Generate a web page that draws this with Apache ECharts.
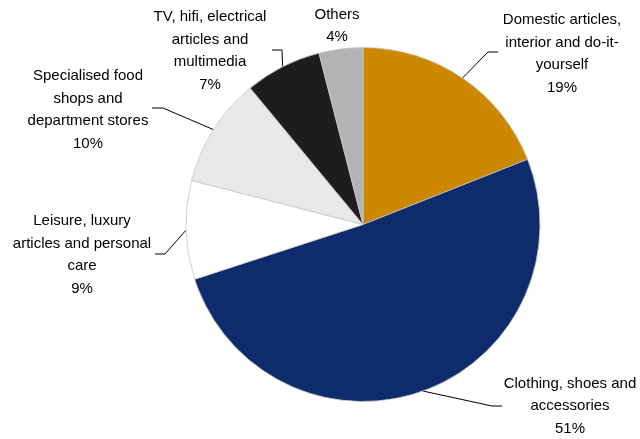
<!DOCTYPE html>
<html><head><meta charset="utf-8">
<script src="https://cdn.jsdelivr.net/npm/echarts@6/dist/echarts.min.js"></script>
<style>html,body{margin:0;padding:0;background:#fff}#c{width:640px;height:439px}</style>
</head><body><div id="c"></div>
<script>
const categories = [
  "Domestic articles,\ninterior and do-it-\nyourself",
  "Clothing, shoes and\naccessories",
  "Leisure, luxury\narticles and personal\ncare",
  "Specialised food\nshops and\ndepartment stores",
  "TV, hifi, electrical\narticles and\nmultimedia",
  "Others"
];
const values = [19, 51, 9, 10, 7, 4];
const colors = ['#CC8800', '#0E2C6B', '#FFFFFF', '#E8E8E8', '#1E1C1D', '#B3B3B3'];

// layout / style settings
const CX = 363, CY = 224.5, R = 177;
const labelPos = [[562, 54], [570, 406], [82, 255], [88, 110], [210, 51], [337, 26]];
const leaderPts = [
  [[488, 52], [498, 52]],
  [[492, 406], [502, 406]],
  [[165, 254], [155, 254]],
  [[163, 108], [152, 108]],
  [[282, 50], [272, 50]],
  null
];

const total = values.reduce((a, b) => a + b, 0);
function anchor(i) {
  let cum = 0;
  for (let k = 0; k < i; k++) cum += values[k];
  const th = (cum + values[i] / 2) / total * Math.PI * 2;
  return [CX + R * Math.sin(th), CY - R * Math.cos(th)];
}

const data = categories.map((name, i) => ({
  name: name,
  value: values[i],
  itemStyle: { color: colors[i] },
  labelLine: { show: !!leaderPts[i] }
}));

const chart = echarts.init(document.getElementById('c'), null, { renderer: 'canvas' });
chart.setOption({
  animation: false,
  backgroundColor: '#ffffff',
  series: [{
    type: 'pie',
    center: [CX, CY],
    radius: R,
    startAngle: 90,
    clockwise: true,
    avoidLabelOverlap: false,
    data: data,
    itemStyle: { borderColor: '#c8c8c8', borderWidth: 0.8 },
    label: {
      show: true,
      formatter: '{b}\n{c}%',
      fontFamily: 'Liberation Sans, Arial, sans-serif',
      fontSize: 15,
      lineHeight: 22.5,
      color: '#000'
    },
    labelLine: {
      show: true,
      length: 10,
      length2: 10,
      lineStyle: { color: '#000', width: 1 }
    },
    labelLayout: function (params) {
      const i = params.dataIndex;
      const out = { x: labelPos[i][0], y: labelPos[i][1], align: 'center', verticalAlign: 'middle' };
      if (leaderPts[i]) {
        out.labelLinePoints = [anchor(i), leaderPts[i][0], leaderPts[i][1]];
      }
      return out;
    },
    emphasis: { disabled: true }
  }]
});
</script>
</body></html>
